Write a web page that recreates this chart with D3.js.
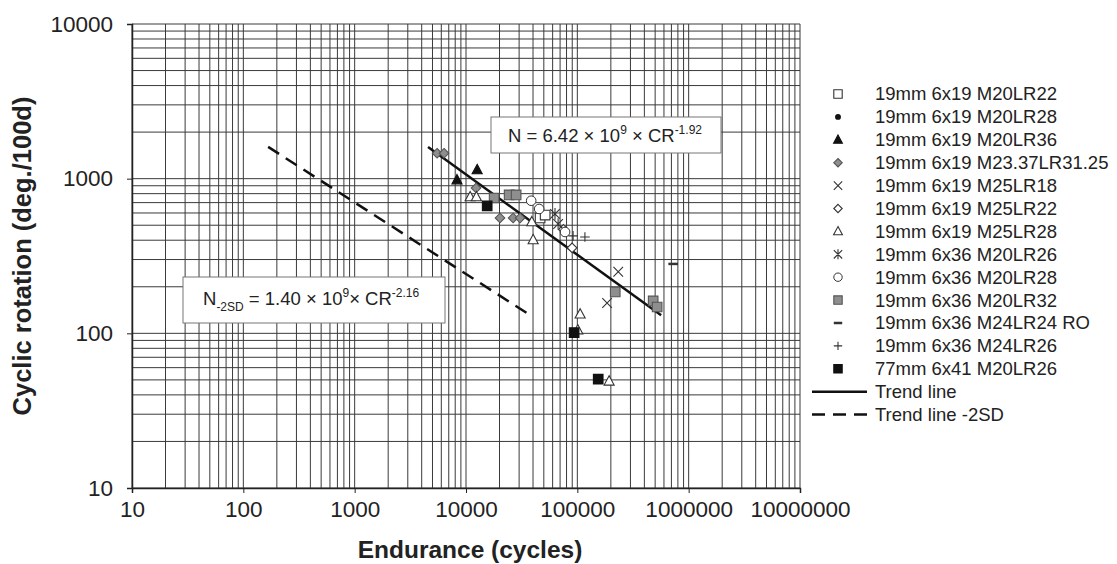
<html>
<head>
<meta charset="UTF-8">
<title>Cyclic rotation vs endurance</title>
<script src="https://d3js.org/d3.v7.min.js"></script>
<style>
  body { margin: 0; background: #fff; }
  text { font-family: "Liberation Sans", Arial, sans-serif; fill: #222; }
</style>
</head>
<body>
<div id="chart"></div>
<script>
// ---- data ----
var xTicks = [10, 100, 1000, 10000, 100000, 1000000, 10000000];
var yTicks = [10, 100, 1000, 10000];

var seriesNames = [
  "19mm 6x19 M20LR22", "19mm 6x19 M20LR28", "19mm 6x19 M20LR36",
  "19mm 6x19 M23.37LR31.25", "19mm 6x19 M25LR18", "19mm 6x19 M25LR22",
  "19mm 6x19 M25LR28", "19mm 6x36 M20LR26", "19mm 6x36 M20LR28",
  "19mm 6x36 M20LR32", "19mm 6x36 M24LR24 RO", "19mm 6x36 M24LR26",
  "77mm 6x41 M20LR26"
];
var seriesShapes = ["sqOpen", "dot", "triFill", "diaGrey", "cross", "diaOpen",
  "triOpen", "star", "circOpen", "sqGrey", "dash", "plus", "sqFill"];

// [cycles, rotation]
var m20lr22 = [[46300, 557], [51400, 582]];
var m20lr28 = [];
var m20lr36 = [[8300, 980], [12600, 1140]];
var m2337 = [[5500, 1460], [6350, 1460], [12300, 870], [20200, 557], [26500, 557], [30600, 557]];
var m25lr18 = [[233000, 250], [185000, 157]];
var m25lr22 = [[75000, 470], [89700, 357]];
var m25lr28 = [[10900, 762], [12400, 762], [40100, 402], [39000, 525], [106000, 133], [101000, 105], [193000, 49]];
var x36m20lr26 = [[63000, 592], [67200, 509]];
var x36m20lr28 = [[38500, 720], [45400, 637], [77600, 452]];
var x36m20lr32 = [[17900, 750], [24400, 785], [28200, 785], [219000, 185], [480000, 162], [521000, 148]];
var x36m24lr24 = [[726000, 281]];
var x36m24lr26 = [[91600, 427], [117000, 420]];
var mm77 = [[15500, 667], [93600, 101], [154000, 50.5]];
var seriesData = [m20lr22, m20lr28, m20lr36, m2337, m25lr18, m25lr22, m25lr28,
  x36m20lr26, x36m20lr28, x36m20lr32, x36m24lr24, x36m24lr26, mm77];

var trendLine = [[4560, 1600], [566000, 131]];
var trendLine2SD = [[167, 1606], [37700, 131]];

// ---- layout ----
var W = 1117, H = 564;
var svg = d3.select("#chart").append("svg").attr("width", W).attr("height", H);

var x = d3.scaleLog().domain([10, 10000000]).range([132, 800]);
var y = d3.scaleLog().domain([10, 10000]).range([488, 24]);

// grid lines (1..9 in every decade)
var xGrid = [], yGrid = [];
for (var e = 1; e < 7; e++) for (var k = 1; k < 10; k++) xGrid.push(k * Math.pow(10, e));
xGrid.push(10000000);
for (var e2 = 1; e2 < 4; e2++) for (var k2 = 1; k2 < 10; k2++) yGrid.push(k2 * Math.pow(10, e2));
yGrid.push(10000);

svg.append("g").selectAll("line").data(xGrid).join("line")
  .attr("x1", d => x(d)).attr("x2", d => x(d))
  .attr("y1", y(10)).attr("y2", y(10000))
  .attr("stroke", "#3a3a3a").attr("stroke-width", 1);
svg.append("g").selectAll("line").data(yGrid).join("line")
  .attr("y1", d => y(d)).attr("y2", d => y(d))
  .attr("x1", x(10)).attr("x2", x(10000000))
  .attr("stroke", "#3a3a3a").attr("stroke-width", 1);

// axes
var xAxis = svg.append("g").attr("transform", "translate(0," + y(10) + ")")
  .call(d3.axisBottom(x).tickValues(xTicks).tickFormat(d3.format("d")).tickSize(5).tickPadding(8));
var yAxis = svg.append("g").attr("transform", "translate(" + x(10) + ",0)")
  .call(d3.axisLeft(y).tickValues(yTicks).tickFormat(d3.format("d")).tickSize(5).tickPadding(14));
[xAxis, yAxis].forEach(function (a) {
  a.select(".domain").attr("stroke", "#222").attr("stroke-width", 1.5);
  a.selectAll(".tick line").attr("stroke", "#222");
  a.selectAll("text").style("font-size", "22.5px").attr("fill", "#222");
});

svg.append("text").attr("x", 470).attr("y", 558).attr("text-anchor", "middle")
  .style("font-size", "24.5px").style("font-weight", "bold").text("Endurance (cycles)");
svg.append("text").attr("transform", "translate(31,256) rotate(-90)").attr("text-anchor", "middle")
  .style("font-size", "25.5px").style("font-weight", "bold").text("Cyclic rotation (deg./100d)");

// trend lines
var line = d3.line().x(d => x(d[0])).y(d => y(d[1]));
svg.append("path").attr("d", line(trendLine)).attr("fill", "none")
  .attr("stroke", "#111").attr("stroke-width", 2.5);
svg.append("path").attr("d", line(trendLine2SD)).attr("fill", "none")
  .attr("stroke", "#111").attr("stroke-width", 2.5).attr("stroke-dasharray", "13,8");

// marker shapes
function shapePath(s, r) {
  if (s.indexOf("sq") === 0) return "M" + (-r) + "," + (-r) + "h" + 2 * r + "v" + 2 * r + "h" + (-2 * r) + "Z";
  if (s.indexOf("dia") === 0) return "M0," + (-r) + "L" + r + ",0L0," + r + "L" + (-r) + ",0Z";
  if (s.indexOf("tri") === 0) return "M0," + (-r * 1.15) + "L" + r * 1.05 + "," + r * 0.8 + "L" + (-r * 1.05) + "," + r * 0.8 + "Z";
  if (s === "cross") return "M" + (-r) + "," + (-r) + "L" + r + "," + r + "M" + r + "," + (-r) + "L" + (-r) + "," + r;
  if (s === "star") return "M" + (-r) + "," + (-r) + "L" + r + "," + r + "M" + r + "," + (-r) + "L" + (-r) + "," + r + "M0," + (-r * 1.2) + "V" + r * 1.2;
  if (s === "plus") return "M" + (-r) + ",0H" + r + "M0," + (-r) + "V" + r;
  if (s === "dash") return "M" + (-r) + ",0H" + r;
  return null;
}
function drawMarker(g, s, r) {
  if (s === "dot") {
    g.append("circle").attr("r", r * 0.7).attr("fill", "#111");
  } else if (s === "circOpen") {
    g.append("circle").attr("r", r).attr("fill", "#fff").attr("stroke", "#333").attr("stroke-width", 1);
  } else {
    var p = g.append("path").attr("d", shapePath(s, r));
    if (s === "sqFill" || s === "triFill") p.attr("fill", "#111").attr("stroke", "#111");
    else if (s === "sqGrey" || s === "diaGrey") p.attr("fill", "#8e8e8e").attr("stroke", "#555");
    else if (s === "sqOpen" || s === "diaOpen" || s === "triOpen") p.attr("fill", "#fff").attr("stroke", "#333");
    else p.attr("fill", "none").attr("stroke", "#333");
    p.attr("stroke-width", s === "dash" ? 2.5 : 1.1);
  }
}

// points
seriesData.forEach(function (data, i) {
  svg.append("g").selectAll("g").data(data).join("g")
    .attr("transform", d => "translate(" + x(d[0]) + "," + y(d[1]) + ")")
    .each(function () { drawMarker(d3.select(this), seriesShapes[i], 4.8); });
});

// equation boxes
var eq1 = svg.append("g");
eq1.append("rect").attr("x", 491).attr("y", 117).attr("width", 230).attr("height", 36)
  .attr("fill", "#fff").attr("stroke", "#777").attr("stroke-width", 1);
var t1 = eq1.append("text").attr("x", 508).attr("y", 142).style("font-size", "18.5px");
t1.append("tspan").text("N = 6.42 \u00d7 10");
t1.append("tspan").attr("dy", -8).style("font-size", "12px").text("9");
t1.append("tspan").attr("dy", 8).text(" \u00d7 CR");
t1.append("tspan").attr("dy", -8).style("font-size", "12px").text("-1.92");

var eq2 = svg.append("g");
eq2.append("rect").attr("x", 183).attr("y", 277).attr("width", 262).attr("height", 46)
  .attr("fill", "#fff").attr("stroke", "#777").attr("stroke-width", 1);
var t2 = eq2.append("text").attr("x", 203).attr("y", 305).style("font-size", "18.5px");
t2.append("tspan").text("N");
t2.append("tspan").attr("dy", 6).style("font-size", "12px").text("-2SD");
t2.append("tspan").attr("dy", -6).text(" = 1.40 \u00d7 10");
t2.append("tspan").attr("dy", -8).style("font-size", "12px").text("9");
t2.append("tspan").attr("dy", 8).text("\u00d7 CR");
t2.append("tspan").attr("dy", -8).style("font-size", "12px").text("-2.16");

// legend
var legend = svg.append("g");
var rowY = d => 94 + d * 22.9;
seriesNames.forEach(function (name, i) {
  var g = legend.append("g").attr("transform", "translate(838," + rowY(i) + ")");
  drawMarker(g, seriesShapes[i], 4.2);
  legend.append("text").attr("x", 875).attr("y", rowY(i)).attr("dy", "0.35em")
    .style("font-size", "18.5px").text(name);
});
var ti = seriesNames.length;
legend.append("line").attr("x1", 812).attr("x2", 867).attr("y1", rowY(ti)).attr("y2", rowY(ti))
  .attr("stroke", "#111").attr("stroke-width", 2.5);
legend.append("text").attr("x", 875).attr("y", rowY(ti)).attr("dy", "0.35em").style("font-size", "18.5px").text("Trend line");
legend.append("line").attr("x1", 812).attr("x2", 867).attr("y1", rowY(ti + 1)).attr("y2", rowY(ti + 1))
  .attr("stroke", "#111").attr("stroke-width", 2.5).attr("stroke-dasharray", "13,8");
legend.append("text").attr("x", 875).attr("y", rowY(ti + 1)).attr("dy", "0.35em").style("font-size", "18.5px").text("Trend line -2SD");
</script>
</body>
</html>
